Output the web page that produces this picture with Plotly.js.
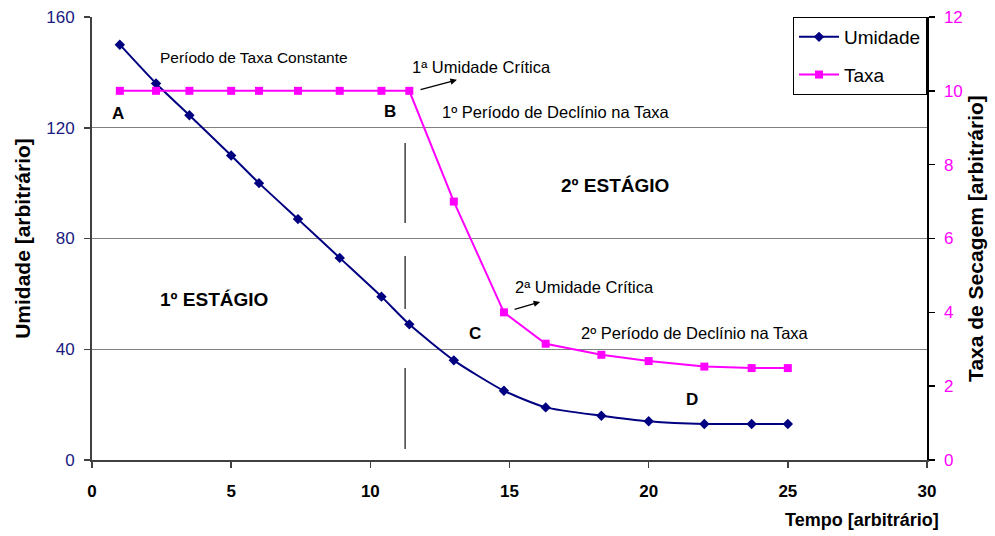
<!DOCTYPE html>
<html>
<head>
<meta charset="utf-8">
<script src="https://cdn.plot.ly/plotly-3.0.1.min.js"></script>
<style>html,body{margin:0;padding:0;background:#fff;}#chart{width:995px;height:536px;}</style>
</head>
<body>
<div id="chart"></div>
<script>
// Data
const tempo = [1.0, 2.3, 3.5, 5.0, 6.0, 7.4, 8.9, 10.4, 11.4, 13.0, 14.8, 16.3, 18.3, 20.0, 22.0, 23.7, 25.0];
const umidade = [150, 136, 124.5, 110, 100, 87, 73, 59, 49, 36, 25, 19, 16, 14, 13, 13, 13];
const taxa = [10, 10, 10, 10, 10, 10, 10, 10, 10, 7.0, 4.0, 3.15, 2.85, 2.68, 2.53, 2.49, 2.49];

const xTicks = [0, 5, 10, 15, 20, 25, 30];
const yLeftTicks = [0, 40, 80, 120, 160];
const yRightTicks = [0, 2, 4, 6, 8, 10, 12];

// Text labels
const labelTexts = ["Período de Taxa Constante", "1ª Umidade Crítica", "1º Período de Declínio na Taxa",
  "A", "B", "2º ESTÁGIO", "1º ESTÁGIO", "2ª Umidade Crítica", "C", "2º Período de Declínio na Taxa", "D"];
const labelX = [5.82, 14.01, 16.67, 0.93, 10.71, 18.79, 4.38, 17.68, 13.76, 21.66, 21.56];
const labelY = [145.5, 141.9, 125.7, 125.3, 125.7, 99.0, 57.8, 62.5, 45.8, 45.8, 22.0];
const labelSize = [15.5, 16.5, 16.5, 17, 17, 19, 19, 16.5, 17, 16.5, 17];
const labelBold = [false, false, false, true, true, true, true, false, true, false, true];

// Arrows: tail (x,y) -> head (x,y)
const arrowTailX = [11.75, 15.13];
const arrowTailY = [133.6, 54.2];
const arrowHeadX = [13.11, 16.10];
const arrowHeadY = [137.3, 57.1];

// Vertical dashed divider
const dividerX = 11.25;
const dividerSegments = [[114.5, 85.6], [73.7, 54.5], [33.2, 4.0]];

const traces = [
  {
    x: tempo, y: umidade, name: 'Umidade', type: 'scatter', mode: 'lines+markers',
    line: {color: '#000080', width: 2, shape: 'spline', smoothing: 0.6},
    marker: {symbol: 'diamond', size: 8, color: '#000080'},
    legendgroup: 'g1', yaxis: 'y'
  },
  {
    x: tempo, y: taxa, name: 'Taxa', type: 'scatter', mode: 'lines+markers',
    line: {color: '#FF00FF', width: 2},
    marker: {symbol: 'square', size: 8, color: '#FF00FF'},
    legendgroup: 'g2', yaxis: 'y2'
  }
];

const annotations = labelTexts.map((t, i) => ({
  x: labelX[i], y: labelY[i], xref: 'x', yref: 'y', text: t, showarrow: false,
  font: {family: 'Liberation Sans, Arial, sans-serif', size: labelSize[i], color: '#000', weight: labelBold[i] ? 'bold' : 'normal'},
  xanchor: 'center', yanchor: 'middle'
}));
arrowTailX.forEach((v, i) => {
  annotations.push({
    x: arrowHeadX[i], y: arrowHeadY[i], xref: 'x', yref: 'y',
    ax: arrowTailX[i], ay: arrowTailY[i], axref: 'x', ayref: 'y',
    text: '', showarrow: true, arrowhead: 2, arrowsize: 1, arrowwidth: 1.3, arrowcolor: '#000'
  });
});
annotations.push({
  x: 1, y: -0.135, xref: 'paper', yref: 'paper', xanchor: 'right', yanchor: 'middle',
  xshift: 14, text: 'Tempo [arbitrário]', showarrow: false,
  font: {family: 'Liberation Sans, Arial, sans-serif', size: 18, color: '#000', weight: 'bold'}
});

const shapes = dividerSegments.map(s => ({
  type: 'line', xref: 'x', yref: 'y', x0: dividerX, x1: dividerX, y0: s[0], y1: s[1],
  line: {color: '#404040', width: 1.5}
}));

const layout = {
  width: 995, height: 536,
  margin: {l: 92, r: 68, t: 17, b: 76},
  paper_bgcolor: '#fff', plot_bgcolor: '#fff',
  font: {family: 'Liberation Sans, Arial, sans-serif', color: '#000'},
  showlegend: true,
  legend: {
    x: 1, y: 1, xanchor: 'right', yanchor: 'top',
    bordercolor: '#000', borderwidth: 1, bgcolor: '#fff',
    font: {size: 19, color: '#000'}, tracegroupgap: 10, itemwidth: 40
  },
  xaxis: {
    range: [0, 30], tickvals: xTicks, showgrid: false, zeroline: false,
    showline: true, linecolor: '#404040', linewidth: 2,
    ticks: 'outside', ticklen: 6, tickcolor: '#404040', tickwidth: 1.5,
    tickfont: {size: 17, color: '#000', weight: 'bold'}, ticklabelstandoff: 9
  },
  yaxis: {
    range: [0, 160], tickvals: yLeftTicks, showgrid: true, gridcolor: '#808080', gridwidth: 1,
    zeroline: false, showline: true, linecolor: '#404040', linewidth: 2,
    ticks: 'outside', ticklen: 6, tickcolor: '#404040', tickwidth: 1.5,
    tickfont: {size: 17, color: '#1a1a80'}, ticklabelstandoff: 6,
    title: {text: 'Umidade [arbitrário]', font: {size: 21, color: '#000', weight: 'bold'}, standoff: 10}
  },
  yaxis2: {
    range: [0, 12], tickvals: yRightTicks, overlaying: 'y', side: 'right', showgrid: false,
    zeroline: false, showline: true, linecolor: '#000', linewidth: 1.5,
    ticks: 'outside', ticklen: 6, tickcolor: '#000', tickwidth: 1.5,
    tickfont: {size: 17, color: '#FF00FF'}, ticklabelstandoff: 6,
    title: {text: 'Taxa de Secagem [arbitrário]', font: {size: 21, color: '#000', weight: 'bold'}, standoff: 6}
  },
  annotations: annotations,
  shapes: shapes
};

Plotly.newPlot('chart', traces, layout, {displayModeBar: false, staticPlot: true});
</script>
</body>
</html>
